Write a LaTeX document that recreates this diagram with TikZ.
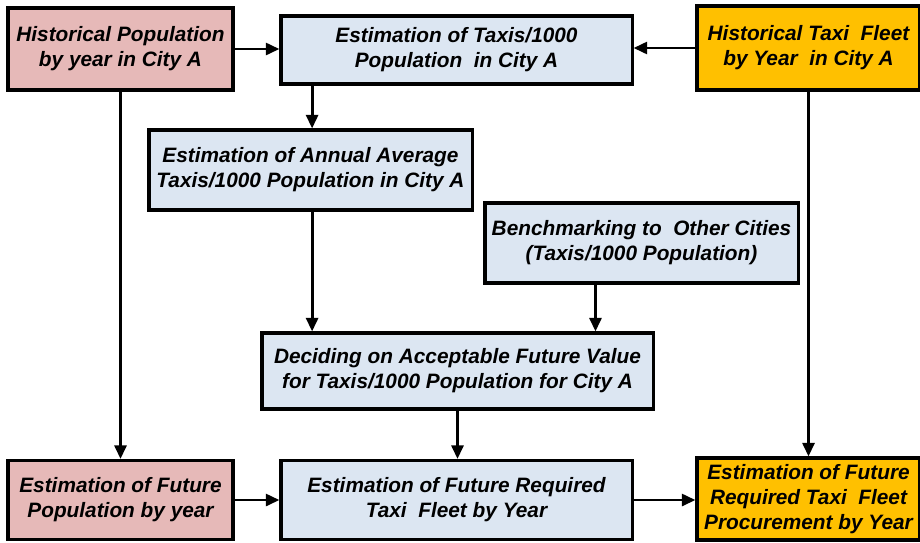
\documentclass[tikz,border=0pt]{standalone}
\usepackage{fontspec}
\setmainfont{Liberation Sans}
\usetikzlibrary{arrows.meta,shadows}
\definecolor{popred}{HTML}{E6B9B8}
\definecolor{calcblue}{HTML}{DCE6F2}
\definecolor{fleetgold}{HTML}{FFC000}

\tikzset{
  box/.style={draw=black, line width=2.2pt, align=center, inner sep=1pt,
    font=\fontsize{14.8}{17.8}\selectfont\bfseries\itshape,
    drop shadow={shadow xshift=0.8pt, shadow yshift=-0.8pt, fill=black!45, opacity=1}},
  popbox/.style={box, fill=popred},
  calcbox/.style={box, fill=calcblue},
  fleetbox/.style={box, fill=fleetgold},
  arr/.style={line width=2pt, -{Triangle[length=3.4mm,width=3mm]}}
}

\begin{document}
\begin{tikzpicture}[x=0.025cm,y=-0.025cm]
\useasboundingbox (0,0) rectangle (920,542);

% top row
\node[popbox, minimum width=5.625cm, minimum height=2.05cm] (histpop) at (120.5,49)
  {Historical Population\\by year in City A};
\node[calcbox, minimum width=8.775cm, minimum height=1.7cm] (estrate) at (456.5,50)
  {Estimation of Taxis/1000\\Population ~in City A};
\node[fleetbox, minimum width=5.575cm, minimum height=2.1cm] (histfleet) at (808.5,48)
  {Historical Taxi ~Fleet\\by Year ~in City A};

% middle
\node[calcbox, minimum width=8.075cm, minimum height=2.0cm] (annual) at (310.5,170)
  {Estimation of Annual Average\\Taxis/1000 Population in City A};
\node[calcbox, minimum width=7.825cm, minimum height=2.0cm] (bench) at (641.5,243)
  {Benchmarking to ~Other Cities\\(Taxis/1000 Population)};
\node[calcbox, minimum width=9.775cm, minimum height=1.9cm] (decide) at (457.5,371)
  {Deciding on Acceptable Future Value\\for Taxis/1000 Population for City A};

% bottom row
\node[popbox, minimum width=5.625cm, minimum height=1.975cm] (futpop) at (120.5,500)
  {Estimation of Future\\Population by year};
\node[calcbox, minimum width=8.775cm, minimum height=1.975cm] (futfleet) at (456.5,500)
  {Estimation of Future Required\\Taxi ~Fleet by Year};
\node[fleetbox, minimum width=5.575cm, minimum height=2.05cm] (procure) at (808.5,499)
  {Estimation of Future\\Required Taxi ~Fleet\\Procurement by Year};

% connectors
\draw[arr] (histpop.east) -- (histpop.east -| estrate.west);
\draw[arr] (histfleet.west) -- (histfleet.west -| estrate.east);
\draw[arr] ([xshift=0.04cm]estrate.south -| annual.north) -- ([xshift=0.04cm]annual.north);
\draw[arr] ([xshift=0.04cm]annual.south) -- ([xshift=0.04cm]annual.south |- decide.north);
\draw[arr] ([xshift=-1.15cm]bench.south) -- ([xshift=-1.15cm]bench.south |- decide.north);
\draw[arr] (decide.south) -- (decide.south |- futfleet.north);
\draw[arr] (histpop.south) -- (futpop.north);
\draw[arr] (histfleet.south) -- (procure.north);
\draw[arr] (futpop.east) -- (futpop.east -| futfleet.west);
\draw[arr] (futfleet.east) -- (futfleet.east -| procure.west);
\end{tikzpicture}
\end{document}
